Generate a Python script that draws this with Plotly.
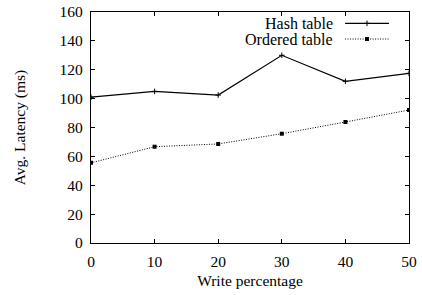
import plotly.graph_objects as go

write_pct = [0, 10, 20, 30, 40, 50]
hash_table = [101, 105, 102.5, 130, 112, 117.5]
ordered_table = [55.5, 66.7, 68.6, 75.7, 83.8, 92.1]
series_names = ["Hash table", "Ordered table"]

font = dict(family="Liberation Serif, Times New Roman, serif", size=15.5, color="black")

fig = go.Figure()
fig.add_trace(go.Scatter(x=write_pct, y=hash_table, mode="lines+markers", name=series_names[0],
                         line=dict(color="black", width=1.2),
                         marker=dict(symbol="cross-thin", size=4, line=dict(color="black", width=1)),
                         showlegend=False))
fig.add_trace(go.Scatter(x=write_pct, y=ordered_table, mode="lines+markers", name=series_names[1],
                         line=dict(color="black", width=1, dash="1px,1.5px"),
                         marker=dict(symbol="square", size=4, color="black"),
                         showlegend=False))

# legend (gnuplot style: text right-aligned, sample to its right)
leg_y = [0.951, 0.883]
for i, (nm, y) in enumerate(zip(series_names, leg_y)):
    fig.add_annotation(x=0.766, y=y, xref="paper", yref="paper", text=nm, showarrow=False,
                       xanchor="right", yanchor="middle", font=dict(font, size=16))
    fig.add_shape(type="line", xref="paper", yref="paper", x0=0.799, x1=0.937, y0=y, y1=y,
                  line=dict(color="black", width=1.2 if i == 0 else 1,
                            dash="solid" if i == 0 else "1px,1.5px"))
fig.add_trace(go.Scatter(x=[0.868], y=[leg_y[0]], xaxis="x2", yaxis="y2", mode="markers",
                         marker=dict(symbol="cross-thin", size=4, line=dict(color="black", width=1)),
                         showlegend=False, hoverinfo="skip"))
fig.add_trace(go.Scatter(x=[0.868], y=[leg_y[1]], xaxis="x2", yaxis="y2", mode="markers",
                         marker=dict(symbol="square", size=4, color="black"),
                         showlegend=False, hoverinfo="skip"))

axis_common = dict(showgrid=False, zeroline=False, showline=True, linecolor="black", linewidth=1.2,
                   mirror="allticks", ticks="inside", ticklen=4, tickcolor="black", tickwidth=1,
                   tickfont=font, automargin=False)
fig.update_layout(
    width=422, height=295,
    margin=dict(l=91, r=13, t=12, b=52),
    paper_bgcolor="white", plot_bgcolor="white",
    font=font,
    xaxis=dict(axis_common, range=[0, 50], tickvals=write_pct, ticklabelstandoff=4,
               title=dict(text="Write percentage", font=font, standoff=6)),
    yaxis=dict(axis_common, range=[0, 160], tickvals=list(range(0, 161, 20)), ticklabelstandoff=4,
               title=dict(text="Avg. Latency (ms)", font=font, standoff=30)),
    xaxis2=dict(range=[0, 1], overlaying="x", visible=False),
    yaxis2=dict(range=[0, 1], overlaying="y", visible=False),
)
fig.write_html("out.html", config={"displayModeBar": False},
               post_script="document.body.style.margin='0';document.body.style.overflow='hidden';")
